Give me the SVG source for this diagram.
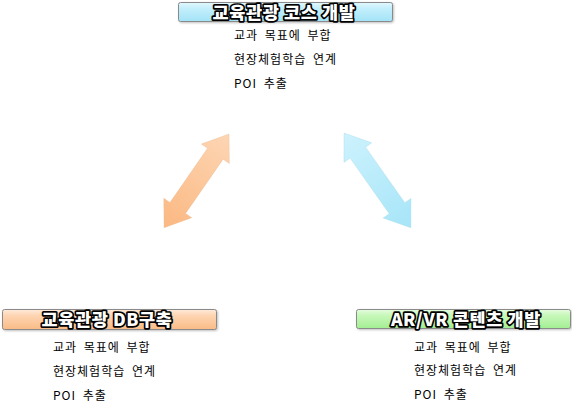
<svg xmlns="http://www.w3.org/2000/svg" width="572" height="402" viewBox="0 0 572 402">
<defs>
<style>
.title{font-family:"Noto Sans CJK KR","Noto Sans",sans-serif;font-weight:900;font-size:17.5px;letter-spacing:0.6px;fill:#fff;stroke:#000;stroke-width:3.4;stroke-linejoin:round;paint-order:stroke;text-anchor:middle}
.item{font-family:"Noto Sans CJK KR","Noto Sans",sans-serif;font-size:12px;fill:#000;letter-spacing:1px;word-spacing:3px}
.box{stroke:#8a8a8a;stroke-width:1}
</style>
<linearGradient id="gBlue" x1="0" y1="0" x2="0" y2="1">
<stop offset="0" stop-color="#e3f8fe"/><stop offset="0.3" stop-color="#c4effc"/><stop offset="1" stop-color="#a2e3f7"/>
</linearGradient>
<linearGradient id="gOrange" x1="0" y1="0" x2="0" y2="1">
<stop offset="0" stop-color="#feeadb"/><stop offset="0.3" stop-color="#fdd5b2"/><stop offset="1" stop-color="#fbbb86"/>
</linearGradient>
<linearGradient id="gGreen" x1="0" y1="0" x2="0" y2="1">
<stop offset="0" stop-color="#e6fce0"/><stop offset="0.3" stop-color="#c8f8ba"/><stop offset="1" stop-color="#a2ee92"/>
</linearGradient>
<linearGradient id="aOrange" x1="0" y1="0" x2="1" y2="0">
<stop offset="0" stop-color="#fdd6b4"/><stop offset="1" stop-color="#fbb882"/>
</linearGradient>
<linearGradient id="aBlue" x1="0" y1="0" x2="1" y2="0">
<stop offset="0" stop-color="#cdf2fd"/><stop offset="1" stop-color="#a6e5f8"/>
</linearGradient>
<filter id="sh" x="-5%" y="-20%" width="110%" height="150%">
<feDropShadow dx="1" dy="1" stdDeviation="0.8" flood-color="#000" flood-opacity="0.25"/>
</filter>
</defs>

<g id="connectors">
<polygon transform="translate(229,134) rotate(124.7)" points="0,0 24,-17 24,-9.5 90,-9.5 90,-17 114,0 90,17 90,9.5 24,9.5 24,17" fill="url(#aOrange)" stroke="#e8b48a" stroke-width="0.5" stroke-opacity="0.6"/>
<polygon transform="translate(344,133) rotate(54.8)" points="0,0 24,-17 24,-9.5 92,-9.5 92,-17 116,0 92,17 92,9.5 24,9.5 24,17" fill="url(#aBlue)" stroke="#9fd3e3" stroke-width="0.5" stroke-opacity="0.6"/>
</g>

<g id="node-course">
<rect class="box" x="178.5" y="2.5" width="214" height="19" rx="2" fill="url(#gBlue)" filter="url(#sh)"/>
<text class="title" x="284" y="18.5">교육관광 코스 개발</text>
<text class="item" x="234" y="40">교과 목표에 부합</text>
<text class="item" x="234" y="64">현장체험학습 연계</text>
<text class="item" x="234" y="88">POI 추출</text>
</g>

<g id="node-db">
<rect class="box" x="2.5" y="309.5" width="214" height="20" rx="2" fill="url(#gOrange)" filter="url(#sh)"/>
<text class="title" x="107" y="326">교육관광 DB구축</text>
<text class="item" x="53" y="352">교과 목표에 부합</text>
<text class="item" x="53" y="376">현장체험학습 연계</text>
<text class="item" x="53" y="400">POI 추출</text>
</g>

<g id="node-arvr">
<rect class="box" x="356.5" y="309.5" width="214" height="19" rx="2" fill="url(#gGreen)" filter="url(#sh)"/>
<text class="title" x="466" y="325.5">AR/VR 콘텐츠 개발</text>
<text class="item" x="414" y="352">교과 목표에 부합</text>
<text class="item" x="414" y="375">현장체험학습 연계</text>
<text class="item" x="414" y="399">POI 추출</text>
</g>
</svg>
